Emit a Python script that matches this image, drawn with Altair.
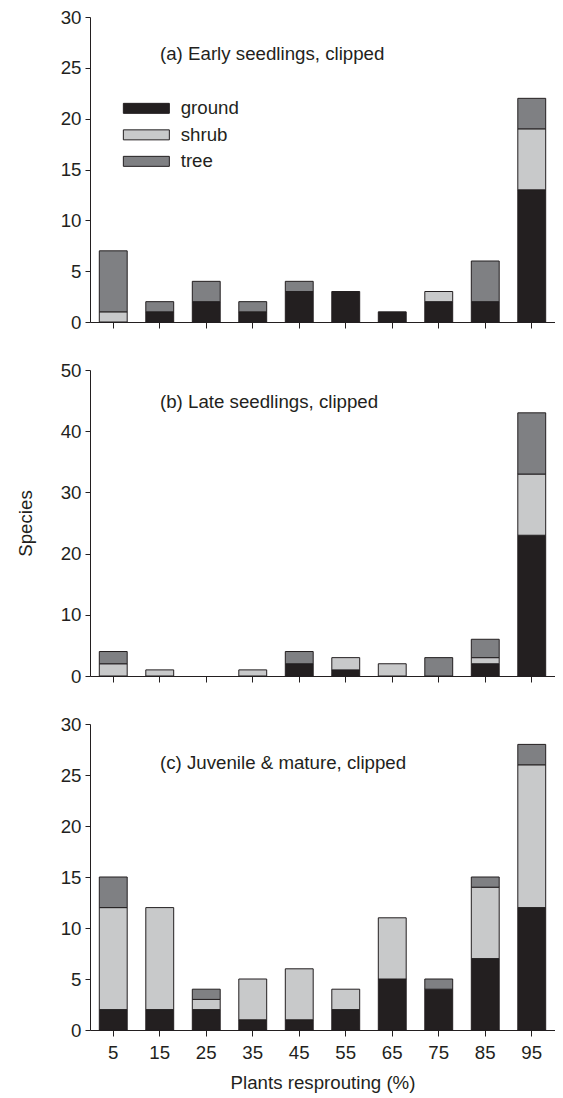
import altair as alt
import pandas as pd

bins = ["5", "15", "25", "35", "45", "55", "65", "75", "85", "95"]
types = ["ground", "shrub", "tree"]
colors = ["#231f20", "#c8c9ca", "#7f8083"]

a_ground = [0, 1, 2, 1, 3, 3, 1, 2, 2, 13]
a_shrub = [1, 0, 0, 0, 0, 0, 0, 1, 0, 6]
a_tree = [6, 1, 2, 1, 1, 0, 0, 0, 4, 3]

b_ground = [0, 0, 0, 0, 2, 1, 0, 0, 2, 23]
b_shrub = [2, 1, 0, 1, 0, 2, 2, 0, 1, 10]
b_tree = [2, 0, 0, 0, 2, 0, 0, 3, 3, 10]

c_ground = [2, 2, 2, 1, 1, 2, 5, 4, 7, 12]
c_shrub = [10, 10, 1, 4, 5, 2, 6, 0, 7, 14]
c_tree = [3, 0, 1, 0, 0, 0, 0, 1, 1, 2]

titles = ["(a) Early seedlings, clipped", "(b) Late seedlings, clipped",
          "(c) Juvenile & mature, clipped"]

FONT = "Liberation Sans"
FS = 18.7
INK = "#231f20"


def make_df(g, s, t):
    rows = []
    for series, vals in zip(types, [g, s, t]):
        for b, v in zip(bins, vals):
            if v > 0:
                rows.append({"bin": b, "type": series, "value": v,
                             "ord": types.index(series)})
    return pd.DataFrame(rows)


def panel(df, title, ymax, ystep, last, ytitle, legend, ty, h):
    xaxis = alt.Axis(title="Plants resprouting (%)" if last else None,
                     labels=last, labelAngle=0, tickSize=6,
                     labelPadding=7, titlePadding=12)
    yaxis = alt.Axis(values=list(range(0, ymax + 1, ystep)), tickSize=5,
                     labelPadding=4, title=ytitle, titlePadding=25)
    bars = alt.Chart(df).mark_bar(stroke=INK, strokeWidth=1).encode(
        x=alt.X("bin:N", sort=bins,
                scale=alt.Scale(domain=bins, paddingInner=0.4, paddingOuter=0.2),
                axis=xaxis),
        y=alt.Y("value:Q", stack="zero",
                scale=alt.Scale(domain=[0, ymax], nice=False), axis=yaxis),
        color=alt.Color("type:N", scale=alt.Scale(domain=types, range=colors),
                        legend=legend),
        order=alt.Order("ord:Q"),
    )
    txt = alt.Chart(pd.DataFrame({"t": [title]})).mark_text(
        align="left", baseline="middle", font=FONT, fontSize=FS, color=INK
    ).encode(x=alt.value(70), y=alt.value(ty), text="t:N")
    return alt.layer(bars, txt).properties(width=465, height=h)


legend_a = alt.Legend(
    title=None, orient="none", legendX=2, legendY=82,
    symbolType="M-23,-5L23,-5L23,5L-23,5Z", symbolSize=4, symbolOffset=45,
    symbolStrokeColor=INK, symbolStrokeWidth=1, symbolOpacity=1,
    labelFont=FONT, labelFontSize=FS, labelColor=INK, labelOffset=25,
    rowPadding=6.5,
)

pa = panel(make_df(a_ground, a_shrub, a_tree), titles[0], 30, 5, False, None, legend_a, 37, 305)
pb = panel(make_df(b_ground, b_shrub, b_tree), titles[1], 50, 10, False, "Species", None, 32, 306)
pc = panel(make_df(c_ground, c_shrub, c_tree), titles[2], 30, 5, True, None, None, 39, 306)

chart = alt.vconcat(pa, pb, pc, spacing=29).resolve_scale(color="independent").properties(
    padding={"left": 8, "top": 0, "right": 0, "bottom": 0}
).configure_view(stroke=None).configure_axis(
    grid=False, domainColor=INK, tickColor=INK, labelColor=INK, titleColor=INK,
    labelFont=FONT, titleFont=FONT, labelFontSize=FS, titleFontSize=FS,
    titleFontWeight="normal", domainWidth=1, tickWidth=1,
)

chart.save("out.html", embed_options={"renderer": "svg", "actions": False})
